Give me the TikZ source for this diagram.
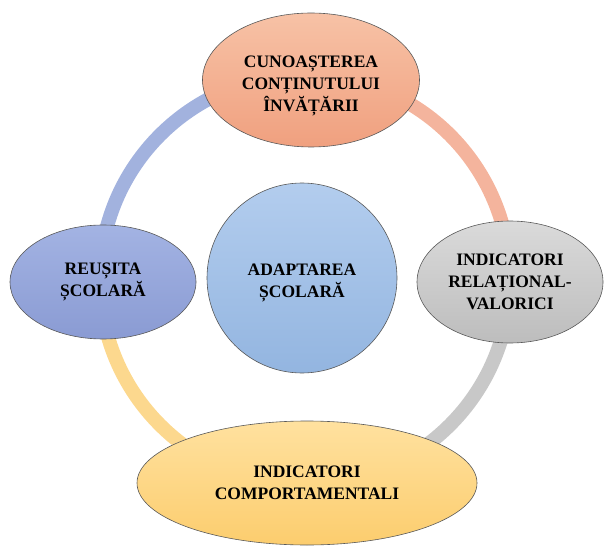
\documentclass[tikz,border=0pt]{standalone}
\usepackage{fontspec}
\setmainfont{Liberation Serif}
\usetikzlibrary{shapes.geometric}
\definecolor{salmonA}{HTML}{F7C2A6}
\definecolor{salmonB}{HTML}{F0A07F}
\definecolor{grayA}{HTML}{DADADA}
\definecolor{grayB}{HTML}{BDBDBD}
\definecolor{blueA}{HTML}{A3B3E3}
\definecolor{blueB}{HTML}{8A9BD3}
\definecolor{yelA}{HTML}{FFE19F}
\definecolor{yelB}{HTML}{FCCD6E}
\definecolor{cenA}{HTML}{B3CDEE}
\definecolor{cenB}{HTML}{93B5E0}
\definecolor{ringS}{HTML}{F4B49D}
\definecolor{ringG}{HTML}{C8C8C8}
\definecolor{ringY}{HTML}{FCD88E}
\definecolor{ringB}{HTML}{A2B2DE}
\tikzset{
  bubfont/.style={align=center, font=\fontsize{17.5}{22}\selectfont\bfseries, inner sep=0pt},
  bub/.style={ellipse, draw=black!65, line width=0.6pt, bubfont},
  ringseg/.style={line width=14pt}
}
\begin{document}
\begin{tikzpicture}[x=1pt,y=1pt]
\useasboundingbox (0,0) rectangle (604,549);
\coordinate (ring) at (305,269);
% ring segments
\draw[ringseg, ringS] (ring) ++(90:205) arc[start angle=90, end angle=0, radius=205];
\draw[ringseg, ringG] (ring) ++(0:205) arc[start angle=0, end angle=-90, radius=205];
\draw[ringseg, ringY] (ring) ++(-90:205) arc[start angle=-90, end angle=-180, radius=205];
\draw[ringseg, ringB] (ring) ++(180:205) arc[start angle=180, end angle=90, radius=205];
% nodes
\node[bub, minimum width=217, minimum height=134, top color=salmonA, bottom color=salmonB,
  label={[bubfont, yshift=-6pt]center:CUNOAȘTEREA\\CONȚINUTULUI\\ÎNVĂȚĂRII}]
  (top) at (311,469) {};
\node[bub, minimum width=186, minimum height=122, top color=grayA, bottom color=grayB]
  (right) at (510,267) {INDICATORI\\RELAȚIONAL-\\VALORICI};
\node[bub, minimum width=186, minimum height=114, top color=blueA, bottom color=blueB]
  (left) at (103,267) {REUȘITA\\ȘCOLARĂ};
\node[bub, minimum width=340, minimum height=124, top color=yelA, bottom color=yelB]
  (bottom) at (307,66) {INDICATORI\\COMPORTAMENTALI};
\node[bub, circle, minimum size=190, top color=cenA, bottom color=cenB,
  label={[bubfont, yshift=-5pt]center:ADAPTAREA\\ȘCOLARĂ}]
  (center) at (302,271) {};
\end{tikzpicture}
\end{document}
